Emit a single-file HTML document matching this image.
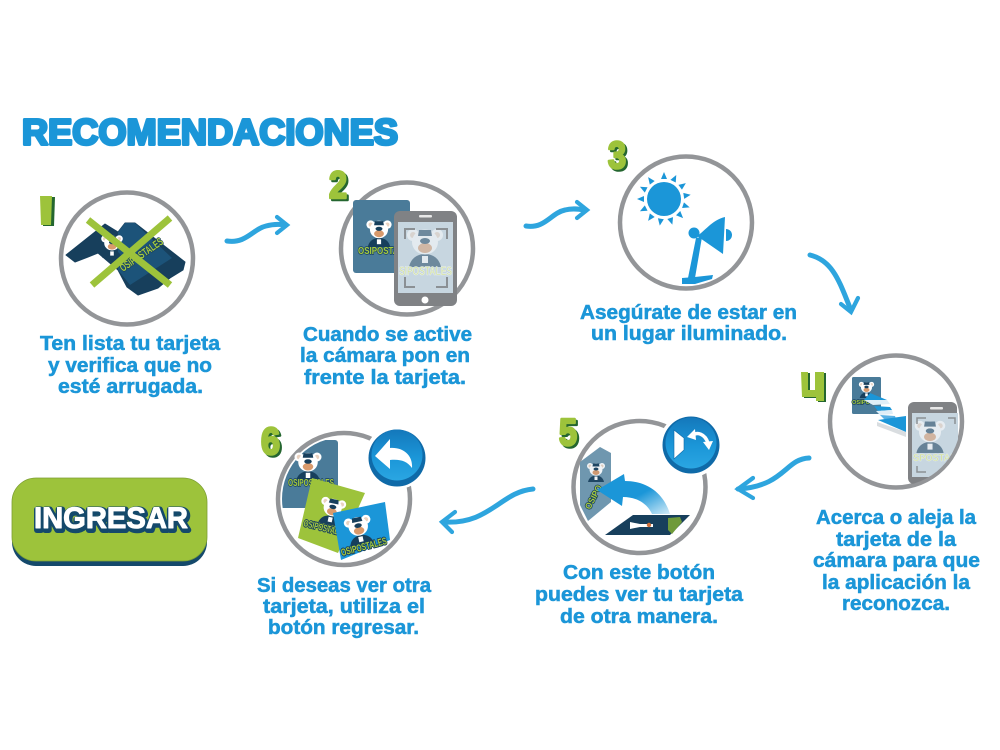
<!DOCTYPE html>
<html lang="es">
<head>
<meta charset="utf-8">
<title>Recomendaciones</title>
<style>
html,body{margin:0;padding:0;background:#fff}
svg{display:block}
text{font-family:"Liberation Sans",sans-serif;font-weight:700}
.t{font-size:20.5px;fill:#1b96d8;stroke:#1b96d8;stroke-width:.55}
.ring{fill:#fff;stroke:#939598;stroke-width:4.5}
.arrow{fill:none;stroke:#2ea5de;stroke-width:5;stroke-linecap:round;stroke-linejoin:round}
.head{fill:none;stroke:#2ea5de;stroke-width:4.2;stroke-linecap:round;stroke-linejoin:miter}
.num{font-size:38px;font-weight:700;fill:#9dc33b;stroke:#9dc33b;stroke-width:2.6;stroke-linejoin:round}
.numS{font-size:38px;font-weight:700;fill:#24662f;stroke:#24662f;stroke-width:2.6;stroke-linejoin:round}
.logo{font-weight:700;fill:#a6cb3f;stroke:#173f5c;stroke-width:1.5;stroke-linejoin:round;paint-order:stroke}
</style>
</head>
<body>
<svg width="1000" height="750" viewBox="0 0 1000 750" xmlns="http://www.w3.org/2000/svg">
<defs>
<symbol id="bear" viewBox="0 0 40 40" overflow="visible">
  <path d="M4 40 C6 30 14 27 20 27 C26 27 34 30 36 40Z" fill="#173f5c"/>
  <circle cx="8" cy="8" r="6" fill="#fff"/>
  <circle cx="32" cy="8" r="6" fill="#fff"/>
  <circle cx="8" cy="8" r="3" fill="#e9d2c0"/>
  <circle cx="32" cy="8" r="3" fill="#e9d2c0"/>
  <ellipse cx="20" cy="15" rx="13" ry="12.5" fill="#fff"/>
  <ellipse cx="20" cy="21" rx="7" ry="5" fill="#d99a6c"/>
  <path d="M14 3 H26 L27 9 H13Z" fill="#173f5c"/>
  <ellipse cx="20" cy="14" rx="5" ry="3" fill="#173f5c"/>
  <rect x="17" y="29" width="6" height="7" fill="#fff"/>
</symbol>
<clipPath id="c4"><circle cx="896" cy="421.5" r="64.5"/></clipPath>
<clipPath id="c6"><circle cx="344" cy="499" r="62"/></clipPath>
<clipPath id="scr2"><rect x="398" y="222" width="55" height="71"/></clipPath>
<clipPath id="card2"><rect x="353" y="200" width="57" height="73"/></clipPath>
<linearGradient id="btn" x1="0" y1="0" x2="0" y2="1"><stop offset="0" stop-color="#1478bb"/><stop offset=".55" stop-color="#1b96d8"/><stop offset="1" stop-color="#2aa6e2"/></linearGradient>
<linearGradient id="fade" x1="0" y1="0" x2="1" y2="1"><stop offset="0" stop-color="#1b96d8"/><stop offset=".55" stop-color="#1b96d8"/><stop offset="1" stop-color="#d3ecf8"/></linearGradient>
</defs>

<rect width="1000" height="750" fill="#fff"/>

<!-- title -->
<text x="22" y="144.5" font-size="36" textLength="376" lengthAdjust="spacingAndGlyphs" fill="#1b96d8" stroke="#1b96d8" stroke-width="3" stroke-linejoin="round">RECOMENDACIONES</text>

<!-- arrows -->
<path class="arrow" d="M227 241 C246 244 253 229 266 226 C273 224 280 224 286 225"/>
<path class="head" d="M277 217 L287 225 L277 233"/>
<path class="arrow" d="M526 226 C545 229 551 213 565 210 C572 208 579 209 585 210"/>
<path class="head" d="M577 202 L587 210 L577 218"/>
<path class="arrow" d="M810 255 C834 261 840 284 851 310"/>
<path class="head" d="M841 304 L851 312 L858 298"/>
<path class="arrow" d="M809 458 C785 459 785 486 738 489"/>
<path class="head" d="M753 478 L738 489 L753 498"/>
<path class="arrow" d="M533 489 C500 492 490 525 443 522"/>
<path class="head" d="M455 512 L442 522 L452 532"/>

<!-- circle 1 -->
<circle class="ring" cx="127" cy="258.5" r="66"/>
<path d="M66 255 L105 224 L118 232 L125 223 L135 223 L185 262 L183 270 L170 278 L158 288 L138 295 L127 287 L118 270 L98 253 L88 257 L75 262Z" fill="#173f5c" stroke="#173f5c" stroke-width="1" stroke-linejoin="round"/>
<path d="M118 232 L125 223 L135 223 L172 258 L130 285 L118 270Z" fill="#1c5379"/>
<use href="#bear" x="100" y="234" width="24" height="24"/>
<text class="logo" font-size="11" transform="translate(123,272) rotate(-35)" textLength="50" lengthAdjust="spacingAndGlyphs">OSIPOSTALES</text>
<path d="M88 220 L170 285 M170 218 L92 285" stroke="#9dc33b" stroke-width="7" fill="none"/>

<!-- circle 2 -->
<circle class="ring" cx="407" cy="248.5" r="66"/>
<rect x="353" y="200" width="57" height="73" rx="3" fill="#4a7b99"/>
<use href="#bear" x="365" y="218" width="28" height="30"/>
<g clip-path="url(#card2)"><text class="logo" x="358" y="254" font-size="10" textLength="56" lengthAdjust="spacingAndGlyphs">OSIPOSTALES</text></g>
<rect x="394" y="211" width="63" height="95" rx="6" fill="#808285"/>
<rect x="398" y="222" width="55" height="71" fill="#c7d6e0"/>
<rect x="419" y="215" width="13" height="2.5" rx="1" fill="#e8e8e8"/>
<circle cx="425" cy="300" r="3.5" fill="#fff"/>
<g clip-path="url(#scr2)">
<use href="#bear" x="405" y="226" width="40" height="42" opacity=".5"/>
<text x="399" y="275" font-size="12" textLength="53" lengthAdjust="spacingAndGlyphs" fill="#d5e39a" stroke="#e6edf0" stroke-width=".6">SIPOSTALES</text>
</g>
<path d="M405 239 V229 H415 M436 229 H447 V239 M405 277 V287 H415 M436 287 H447 V277" fill="none" stroke="#8b9094" stroke-width="2"/>

<!-- circle 3 -->
<circle class="ring" cx="686" cy="222.5" r="66"/>
<circle cx="664" cy="199" r="17" fill="#1b96d8"/>
<g fill="#1b96d8">
<path id="ray" d="M661 179 L667 179 L664 172Z"/>
<use href="#ray" transform="rotate(27 664 199)"/>
<use href="#ray" transform="rotate(54 664 199)"/>
<use href="#ray" transform="rotate(81 664 199)"/>
<use href="#ray" transform="rotate(108 664 199)"/>
<use href="#ray" transform="rotate(135 664 199)"/>
<use href="#ray" transform="rotate(162 664 199)"/>
<use href="#ray" transform="rotate(189 664 199)"/>
<use href="#ray" transform="rotate(216 664 199)"/>
<use href="#ray" transform="rotate(243 664 199)"/>
<use href="#ray" transform="rotate(270 664 199)"/>
<use href="#ray" transform="rotate(297 664 199)"/>
<use href="#ray" transform="rotate(324 664 199)"/>
</g>
<path d="M725 217 L723 254 L697 236 C704 232 712 220 725 217Z" fill="#1b96d8"/>
<circle cx="694" cy="233" r="5.5" fill="#1b96d8"/>
<path d="M726 229 A6 6 0 0 1 726 241Z" fill="#1b96d8"/>
<path d="M696 238 L702 237 L695 278 L688 278Z" fill="#1b96d8"/>
<path d="M682 278 L695 277 L713 275 L712 279 L695 284 H682Z" fill="#1b96d8"/>

<!-- circle 4 -->
<circle class="ring" cx="896" cy="421.5" r="66"/>
<rect x="852" y="377" width="29" height="37" rx="1.5" fill="#4a7b99"/>
<use href="#bear" x="858" y="380" width="17" height="19"/>
<text class="logo" x="852" y="404" font-size="5.5" stroke-width=".6" textLength="18" lengthAdjust="spacingAndGlyphs">OSIPO</text>
<path d="M864 400 L870 393 L887 400Z" fill="#1b96d8"/>
<path d="M864 400 H887 L890 404 L873 405Z" fill="#dfeef7"/>
<path d="M874 406 L890 407 L892 410 L878 411Z" fill="#1b96d8"/>
<path d="M876 411 L892 410 L893 414 L880 415Z" fill="#dfeef7"/>
<path d="M880 415 L895 416 L896 419 H884Z" fill="#5ab1e4"/>
<path d="M878 420 L906 416 V432Z" fill="#1b96d8"/>
<path d="M877 422 L906 432 V437 L877 426Z" fill="#d9dde0"/>
<g clip-path="url(#c4)">
<rect x="908" y="402" width="49" height="82" rx="6" fill="#808285"/>
<rect x="912" y="413" width="46" height="64" fill="#c7d6e0"/>
<use href="#bear" x="913" y="418" width="34" height="36" opacity=".55"/>
<text x="913" y="461" font-size="10" textLength="43" lengthAdjust="spacingAndGlyphs" fill="#d5e39a" stroke="#e6edf0" stroke-width=".4">SPOSTAL</text>
<rect x="930" y="407" width="13" height="2.5" rx="1" fill="#e8e8e8"/>
</g>
<path d="M917 424 V418 H926 M948 418 H955 V424 M917 466 V472 H926" fill="none" stroke="#8b9094" stroke-width="1.5"/>

<!-- circle 5 -->
<circle class="ring" cx="639.5" cy="487" r="66"/>
<path d="M580 462 L600 447 L611 453 V502 L588 521 L580 505Z" fill="#6f97af"/>
<use href="#bear" x="586" y="456" width="20" height="32" opacity=".9"/>
<text class="logo" font-size="9" transform="translate(590,510) rotate(-62)" textLength="26" lengthAdjust="spacingAndGlyphs">OSIPO</text>
<path d="M605 535 L633 515 H690 L670 535Z" fill="#173f5c"/>
<path d="M630 522 L640 524 L653 524 V527 H640 L630 529Z" fill="#fff"/>
<circle cx="649" cy="525" r="2.2" fill="#d0703a"/>
<path d="M668 518 L680 517 L682 522 L672 534 L668 530Z" fill="#6f9a3a"/>
<path d="M597 490 L624 474 L625 481 C648 481 664 494 670 514 L652 514 C647 503 636 497 623 497 L622 506Z" fill="url(#fade)"/>
<circle cx="691" cy="445" r="32" fill="#fff"/>
<circle cx="691" cy="445" r="28.5" fill="#0f6aa8"/>
<circle cx="691" cy="443" r="25.5" fill="url(#btn)"/>
<path d="M674 430 L684 438 V450 L674 459Z" fill="#fff" stroke="#0f6aa8" stroke-width=".6"/>
<path d="M692 436 C697 431 705 434 708 443" fill="none" stroke="#fff" stroke-width="3.5"/>
<path d="M687 437 L695 429 L696 440Z M703 442 L713 441 L709 450Z" fill="#fff"/>

<!-- circle 6 -->
<circle class="ring" cx="344" cy="499" r="66"/>
<g clip-path="url(#c6)">
<rect x="280" y="440" width="58" height="68" rx="3" fill="#4a7b99"/>
</g>
<use href="#bear" x="293" y="449" width="30" height="34"/>
<text class="logo" x="288" y="486" font-size="10" textLength="46" lengthAdjust="spacingAndGlyphs">OSIPOSTALES</text>
<path d="M312 478 L365 493 L338 553 L298 538Z" fill="#9dc33b"/>
<use href="#bear" x="318" y="496" width="28" height="30" transform="rotate(12 332 511)"/>
<text font-size="9.5" transform="translate(303,526) rotate(14)" textLength="44" lengthAdjust="spacingAndGlyphs" fill="#a6cb3f" stroke="#173f5c" stroke-width="2" paint-order="stroke" stroke-linejoin="round">OSIPOSTALES</text>
<path d="M333 513 L385 502 L390 540 L341 560Z" fill="#1b96d8"/>
<use href="#bear" x="344" y="515" width="30" height="30" transform="rotate(-12 359 530)"/>
<text font-size="10" transform="translate(342,556) rotate(-15)" textLength="47" lengthAdjust="spacingAndGlyphs" fill="#a6cb3f" stroke="#173f5c" stroke-width="2" paint-order="stroke" stroke-linejoin="round">OSIPOSTALES</text>
<circle cx="397" cy="457" r="32" fill="#fff"/>
<circle cx="397" cy="458" r="28.5" fill="#0f6aa8"/>
<circle cx="397" cy="455" r="25.5" fill="url(#btn)"/>
<path d="M375 456 L390 439 V448 C403 447 413 455 412 468 C407 461 400 459 390 460 V469Z" fill="#fff"/>

<!-- step numbers -->
<g>
<path d="M43 197 H55 L54 226 H43Z" fill="#24662f"/>
<path d="M40 196 H52 L51 225 H41Z" fill="#9dc33b"/>
<text class="numS" x="331" y="200" textLength="18" lengthAdjust="spacingAndGlyphs">2</text>
<text class="num" x="329" y="198" textLength="18" lengthAdjust="spacingAndGlyphs">2</text>
<text class="numS" x="610" y="170" textLength="18" lengthAdjust="spacingAndGlyphs">3</text>
<text class="num" x="608" y="168" textLength="18" lengthAdjust="spacingAndGlyphs">3</text>
<path d="M803 373 H810 V391 H817 V373 H826 V402 H818 V398 H804Z" fill="#24662f"/>
<path d="M801 372 H808 V390 H815 V372 H824 V401 H816 V397 H802Z" fill="#9dc33b"/>
<text class="numS" x="561" y="447" textLength="18" lengthAdjust="spacingAndGlyphs">5</text>
<text class="num" x="559" y="445" textLength="18" lengthAdjust="spacingAndGlyphs">5</text>
<text class="numS" x="263" y="456" textLength="19" lengthAdjust="spacingAndGlyphs">6</text>
<text class="num" x="261" y="454" textLength="19" lengthAdjust="spacingAndGlyphs">6</text>
</g>

<!-- labels -->
<text class="t" x="40" y="350" textLength="180" lengthAdjust="spacingAndGlyphs">Ten lista tu tarjeta</text>
<text class="t" x="48" y="372" textLength="164" lengthAdjust="spacingAndGlyphs">y verifica que no</text>
<text class="t" x="58" y="393" textLength="145" lengthAdjust="spacingAndGlyphs">esté arrugada.</text>

<text class="t" x="303" y="341" textLength="169" lengthAdjust="spacingAndGlyphs">Cuando se active</text>
<text class="t" x="300" y="362" textLength="170" lengthAdjust="spacingAndGlyphs">la cámara pon en</text>
<text class="t" x="304" y="384" textLength="162" lengthAdjust="spacingAndGlyphs">frente la tarjeta.</text>

<text class="t" x="580" y="319" textLength="217" lengthAdjust="spacingAndGlyphs">Asegúrate de estar en</text>
<text class="t" x="591" y="340" textLength="196" lengthAdjust="spacingAndGlyphs">un lugar iluminado.</text>

<text class="t" x="816" y="524" textLength="160" lengthAdjust="spacingAndGlyphs">Acerca o aleja la</text>
<text class="t" x="836" y="546" textLength="120" lengthAdjust="spacingAndGlyphs">tarjeta de la</text>
<text class="t" x="813" y="567" textLength="167" lengthAdjust="spacingAndGlyphs">cámara para que</text>
<text class="t" x="822" y="589" textLength="148" lengthAdjust="spacingAndGlyphs">la aplicación la</text>
<text class="t" x="842" y="610" textLength="108" lengthAdjust="spacingAndGlyphs">reconozca.</text>

<text class="t" x="563" y="579" textLength="152" lengthAdjust="spacingAndGlyphs">Con este botón</text>
<text class="t" x="535" y="601" textLength="208" lengthAdjust="spacingAndGlyphs">puedes ver tu tarjeta</text>
<text class="t" x="560" y="623" textLength="158" lengthAdjust="spacingAndGlyphs">de otra manera.</text>

<text class="t" x="257" y="592" textLength="174" lengthAdjust="spacingAndGlyphs">Si deseas ver otra</text>
<text class="t" x="263" y="613" textLength="162" lengthAdjust="spacingAndGlyphs">tarjeta, utiliza el</text>
<text class="t" x="268" y="634" textLength="151" lengthAdjust="spacingAndGlyphs">botón regresar.</text>

<!-- button -->
<rect x="12" y="482" width="195" height="84" rx="24" fill="#14496b"/>
<rect x="12" y="478" width="195" height="83" rx="24" fill="#9dc33b" stroke="#7d9f33" stroke-width=".8"/>
<text x="35" y="530" font-size="30" textLength="154" lengthAdjust="spacingAndGlyphs" fill="#14496b" stroke="#14496b" stroke-width="6" stroke-linejoin="round">INGRESAR</text>
<text x="34" y="528" font-size="30" textLength="154" lengthAdjust="spacingAndGlyphs" fill="#fff" stroke="#fff" stroke-width="1" stroke-linejoin="round">INGRESAR</text>
</svg>
</body>
</html>
